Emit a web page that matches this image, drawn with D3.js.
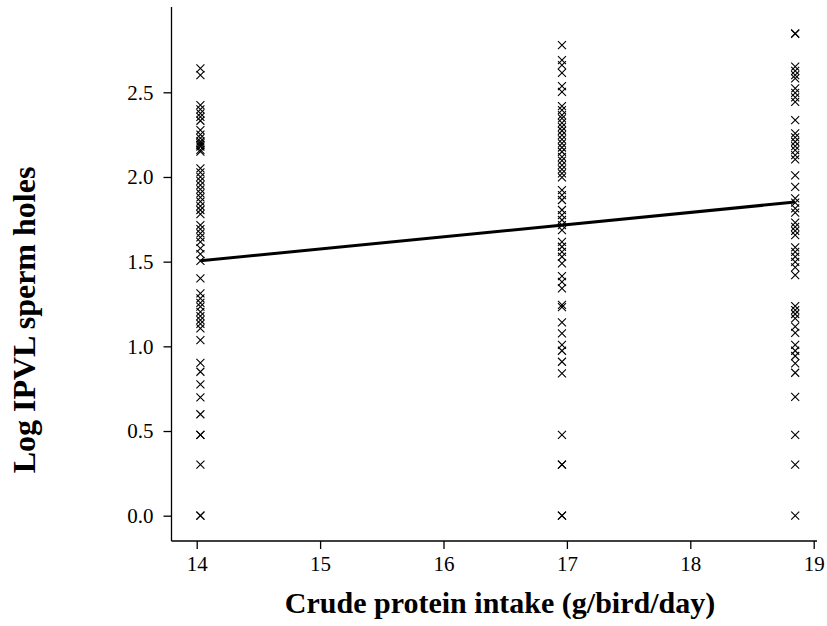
<!DOCTYPE html>
<html>
<head>
<meta charset="utf-8">
<script src="https://cdn.jsdelivr.net/npm/d3@7"></script>
<style>
  body { margin: 0; background: #fff; }
  svg { display: block; }
  .axis text { font-family: "Liberation Serif", "Times New Roman", serif; font-size: 21px; fill: #000; }
  .axis line { stroke: #000; stroke-width: 1.3; }
  .title { font-family: "Liberation Serif", "Times New Roman", serif; font-weight: bold; fill: #000; }
</style>
</head>
<body>
<div id="chart-area"></div>
<script>
// protein intake groups (g/bird/day)
var intake = [14.03, 16.96, 18.85];

// log IPVL sperm holes read per group
var holes14 = [2.641, 2.602, 2.424, 2.399, 2.375, 2.355, 2.332, 2.277, 2.25, 2.23, 2.21, 2.20, 2.19, 2.18, 2.16, 2.15,
               2.051, 2.027, 2.001, 1.977, 1.952, 1.927, 1.903, 1.880, 1.854, 1.828, 1.805, 1.781,
               1.716, 1.692, 1.667, 1.643, 1.617, 1.578, 1.545, 1.505, 1.401,
               1.313, 1.283, 1.257, 1.234, 1.204, 1.179, 1.155, 1.132, 1.106, 1.037,
               0.903, 0.850, 0.776, 0.699, 0.599, 0.477, 0.477, 0.301, 0, 0];
var holes17 = [2.778, 2.690, 2.660, 2.615, 2.537, 2.503,
               2.419, 2.395, 2.365, 2.346, 2.320, 2.296, 2.273, 2.247, 2.222, 2.198, 2.174, 2.149, 2.119, 2.096, 2.070, 2.045, 2.021, 1.998,
               1.923, 1.893, 1.864, 1.805, 1.775, 1.746, 1.716, 1.686,
               1.617, 1.588, 1.558, 1.529, 1.490, 1.415, 1.381, 1.342,
               1.245, 1.232, 1.142, 1.077, 1.008, 0.974, 0.909, 0.841,
               0.477, 0.301, 0.301, 0, 0];
var holes19 = [2.848, 2.845, 2.651, 2.627, 2.602, 2.582, 2.523, 2.497, 2.470, 2.444, 2.336,
               2.257, 2.234, 2.208, 2.182, 2.159, 2.129, 2.104, 2.010, 1.942,
               1.874, 1.848, 1.815, 1.789, 1.730, 1.706, 1.682, 1.657,
               1.584, 1.558, 1.529, 1.499, 1.466, 1.421,
               1.238, 1.214, 1.191, 1.165, 1.116, 1.080,
               1.008, 0.974, 0.943, 0.900, 0.844, 0.702, 0.477, 0.301, 0];

// fitted regression line end points
var fitX = [14.03, 18.85];
var fitY = [1.505, 1.852];

var xTicks = [14, 15, 16, 17, 18, 19];
var yTicks = [0, 0.5, 1.0, 1.5, 2.0, 2.5];

var width = 827, height = 626;

var svg = d3.select("#chart-area").append("svg")
    .attr("width", width)
    .attr("height", height);

var x = d3.scaleLinear().domain([14, 19]).range([196.7, 813.7]);
var y = d3.scaleLinear().domain([0, 2.5]).range([515.7, 92.3]);

var axisX = 171.5, axisY = 541;

var points = [];
[holes14, holes17, holes19].forEach(function(list, i) {
    list.forEach(function(v) { points.push({ x: intake[i], y: v }); });
});

// axes
svg.append("g")
    .attr("class", "axis")
    .attr("transform", "translate(0," + axisY + ")")
    .call(d3.axisBottom(x).tickValues(xTicks).tickSize(8).tickPadding(7).tickFormat(d3.format("d")))
    .call(function(g) { g.select(".domain").remove(); });

svg.append("g")
    .attr("class", "axis")
    .attr("transform", "translate(" + axisX + ",0)")
    .call(d3.axisLeft(y).tickValues(yTicks).tickSize(8).tickPadding(10).tickFormat(d3.format(".1f")))
    .call(function(g) { g.select(".domain").remove(); });

svg.append("line")
    .attr("x1", axisX).attr("x2", 817)
    .attr("y1", axisY).attr("y2", axisY)
    .attr("stroke", "#000").attr("stroke-width", 1.3);

svg.append("line")
    .attr("x1", axisX).attr("x2", axisX)
    .attr("y1", 7).attr("y2", axisY)
    .attr("stroke", "#000").attr("stroke-width", 1.3);

// scatter
svg.append("g").selectAll("path")
    .data(points)
    .enter().append("path")
      .attr("transform", function(d) { return "translate(" + x(d.x) + "," + y(d.y) + ")"; })
      .attr("d", "M-4,-4L4,4M-4,4L4,-4")
      .attr("fill", "none")
      .attr("stroke", "#000")
      .attr("stroke-width", 1.1);

// fitted line
svg.append("path")
    .datum(d3.zip(fitX, fitY))
    .attr("d", d3.line().x(function(d) { return x(d[0]); }).y(function(d) { return y(d[1]); }))
    .attr("fill", "none")
    .attr("stroke", "#000")
    .attr("stroke-width", 3);

// titles
svg.append("text")
    .attr("class", "title")
    .attr("x", 500)
    .attr("y", 613)
    .attr("font-size", 30)
    .attr("text-anchor", "middle")
    .text("Crude protein intake (g/bird/day)");

svg.append("text")
    .attr("class", "title")
    .attr("font-size", 32)
    .attr("transform", "translate(35,320) rotate(-90)")
    .attr("text-anchor", "middle")
    .text("Log IPVL sperm holes");
</script>
</body>
</html>
